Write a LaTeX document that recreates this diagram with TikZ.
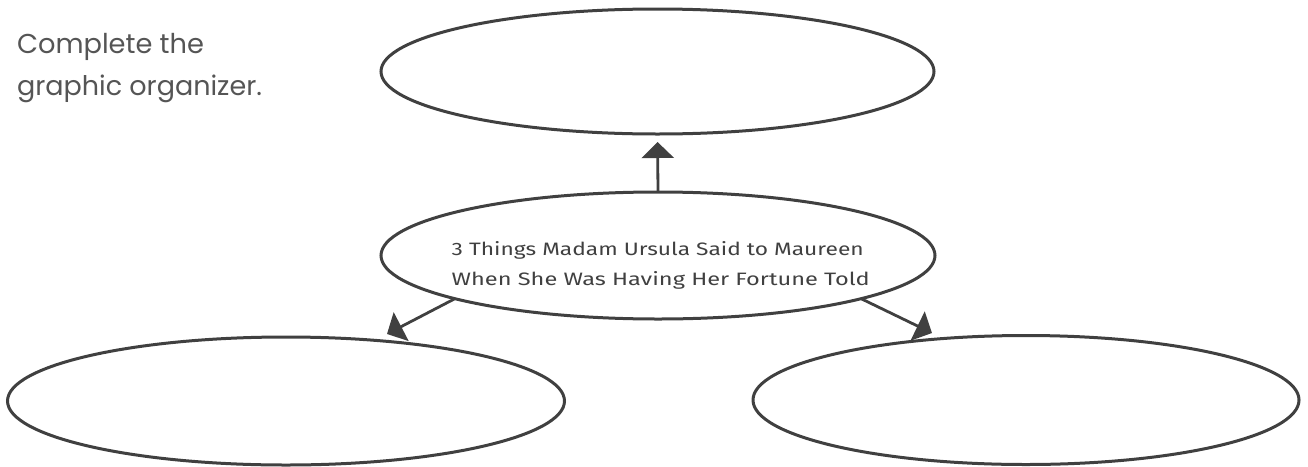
\documentclass[tikz,border=0pt]{standalone}
\usepackage{fontspec}
\setmainfont{Poppins}
\newfontfamily\midfont{Fira Sans}
\usetikzlibrary{shapes.geometric,arrows.meta}
\definecolor{ink}{HTML}{404040}
\definecolor{txt}{HTML}{555555}
\begin{document}
\begin{tikzpicture}[x=1pt,y=-1pt,
  oval/.style={ellipse,draw=ink,line width=3pt,inner sep=0pt,outer sep=0pt},
  conn/.style={draw=ink,line width=2.8pt,-{Triangle[width=32pt,length=16pt]}},
  lbl/.style={inner sep=0pt,outer sep=0pt,anchor=base west,text=txt}]
\useasboundingbox (0,0) rectangle (1308,466);
\node[oval,minimum width=553pt,minimum height=125pt] (top) at (657.5,71.5) {};
\node[oval,minimum width=554pt,minimum height=127pt] (mid) at (658,255.5) {};
\node[oval,minimum width=557pt,minimum height=128pt] (bl) at (286,401) {};
\node[oval,minimum width=546pt,minimum height=129pt] (br) at (1026,400) {};
\node[lbl] (t1) at (17,53.3) {\resizebox{187pt}{!}{Complete the}};
\node[lbl] (t2) at (17,95) {\resizebox{245pt}{!}{graphic organizer.}};
\node[inner sep=0pt,anchor=base west,text=ink] (m1) at (451.5,255.5) {\resizebox{412pt}{14pt}{\midfont 3 Things Madam Ursula Said to Maureen}};
\node[inner sep=0pt,anchor=base west,text=ink] (m2) at (451.5,285) {\resizebox{418pt}{14pt}{\midfont When She Was Having Her Fortune Told}};
\coordinate (tipL) at (387,334);
\coordinate (tipR) at (932,333);
\draw[conn,shorten >=8pt] (mid.north) -- (top.south);
\draw[conn] (mid.192) -- (tipL);
\draw[conn] (mid.348.6) -- (tipR);
\end{tikzpicture}
\end{document}
